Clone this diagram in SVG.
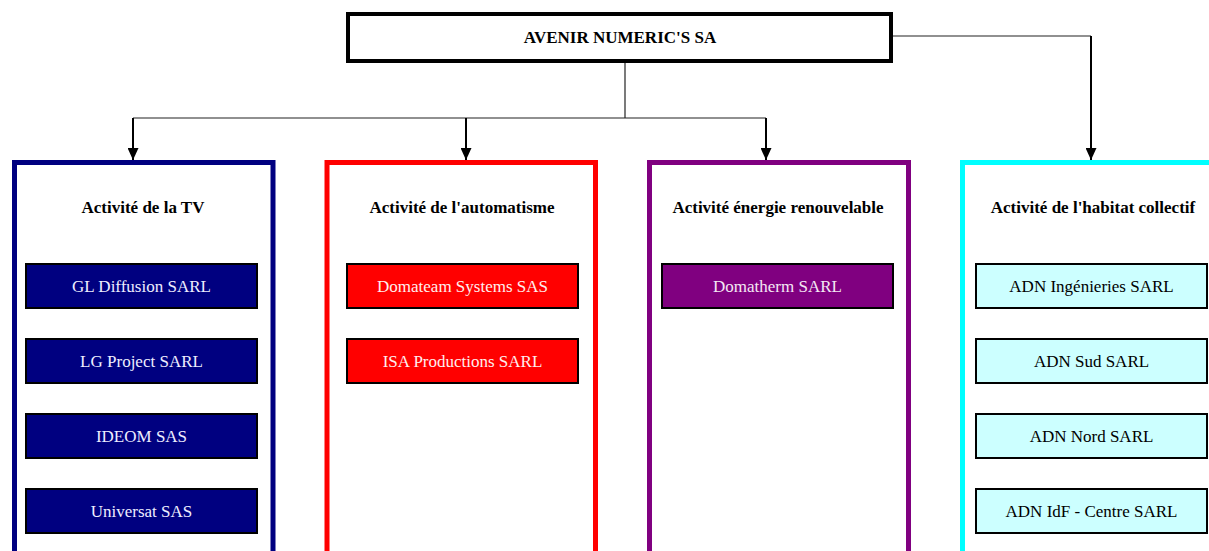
<svg xmlns="http://www.w3.org/2000/svg" width="1209" height="551" viewBox="0 0 1209 551">
<style>
  text { font-family: "Liberation Serif", "Times New Roman", serif; font-size: 17px; text-anchor: middle; }
  .title { font-weight: bold; fill: #000; }
  .col { fill: #fff; stroke-width: 5; }
  .sub { stroke: #000; stroke-width: 2; }
  .thin { stroke: #222; stroke-width: 1.2; fill: none; }
  .arr { stroke: #000; stroke-width: 2; fill: none; marker-end: url(#ah); }
</style>
<defs>
  <marker id="ah" viewBox="0 0 12 11" refX="12" refY="5.5" markerWidth="12" markerHeight="11" orient="auto" markerUnits="userSpaceOnUse">
    <path d="M0,0 L12,5.5 L0,11 Z" fill="#000"/>
  </marker>
</defs>
<rect width="1209" height="551" fill="#fff"/>

<g id="connectors">
  <line class="thin" x1="625" y1="63" x2="625" y2="118"/>
  <line class="thin" x1="133" y1="118" x2="766" y2="118"/>
  <line class="arr" x1="133" y1="118" x2="133" y2="160"/>
  <line class="arr" x1="466" y1="118" x2="466" y2="160"/>
  <line class="arr" x1="766" y1="118" x2="766" y2="160"/>
  <line class="thin" x1="893" y1="36" x2="1091" y2="36"/>
  <line class="arr" x1="1091" y1="36" x2="1091" y2="160"/>
</g>

<g id="root">
  <rect x="348" y="14" width="543" height="47" fill="#fff" stroke="#000" stroke-width="4"/>
  <text class="title" x="620" y="43">AVENIR NUMERIC'S SA</text>
</g>

<g id="col-tv">
  <rect class="col" x="14.5" y="162.5" width="258.5" height="500" stroke="#000080"/>
  <text class="title" x="143" y="213">Activité de la TV</text>
</g>
<g id="col-auto">
  <rect class="col" x="327" y="162.5" width="268.5" height="500" stroke="#FF0000"/>
  <text class="title" x="462" y="213">Activité de l'automatisme</text>
</g>
<g id="col-energie">
  <rect class="col" x="649.5" y="162.5" width="259" height="500" stroke="#800080"/>
  <text class="title" x="778" y="213">Activité énergie renouvelable</text>
</g>
<g id="col-habitat">
  <rect class="col" x="962.5" y="162.5" width="270" height="500" stroke="#00FFFF"/>
  <text class="title" x="1093" y="213">Activité de l'habitat collectif</text>
</g>

<g id="gl-diffusion">
  <rect class="sub" x="26" y="264" width="231" height="44" fill="#000080"/>
  <text x="141.5" y="292" fill="#EEEEFF">GL Diffusion SARL</text>
</g>
<g id="lg-project">
  <rect class="sub" x="26" y="339" width="231" height="44" fill="#000080"/>
  <text x="141.5" y="367" fill="#EEEEFF">LG Project SARL</text>
</g>
<g id="ideom">
  <rect class="sub" x="26" y="414" width="231" height="44" fill="#000080"/>
  <text x="141.5" y="442" fill="#EEEEFF">IDEOM SAS</text>
</g>
<g id="universat">
  <rect class="sub" x="26" y="489" width="231" height="44" fill="#000080"/>
  <text x="141.5" y="517" fill="#EEEEFF">Universat SAS</text>
</g>

<g id="domateam">
  <rect class="sub" x="347" y="264" width="231" height="44" fill="#FF0000"/>
  <text x="462.5" y="292" fill="#FFEEEE">Domateam Systems SAS</text>
</g>
<g id="isa-productions">
  <rect class="sub" x="347" y="339" width="231" height="44" fill="#FF0000"/>
  <text x="462.5" y="367" fill="#FFEEEE">ISA Productions SARL</text>
</g>

<g id="domatherm">
  <rect class="sub" x="662" y="264" width="231" height="44" fill="#800080"/>
  <text x="777.5" y="292" fill="#F4E8F4">Domatherm SARL</text>
</g>

<g id="adn-ingenieries">
  <rect class="sub" x="976" y="264" width="231" height="44" fill="#CCFFFF"/>
  <text x="1091.5" y="292" fill="#000">ADN Ingénieries SARL</text>
</g>
<g id="adn-sud">
  <rect class="sub" x="976" y="339" width="231" height="44" fill="#CCFFFF"/>
  <text x="1091.5" y="367" fill="#000">ADN Sud SARL</text>
</g>
<g id="adn-nord">
  <rect class="sub" x="976" y="414" width="231" height="44" fill="#CCFFFF"/>
  <text x="1091.5" y="442" fill="#000">ADN Nord SARL</text>
</g>
<g id="adn-idf">
  <rect class="sub" x="976" y="489" width="231" height="44" fill="#CCFFFF"/>
  <text x="1091.5" y="517" fill="#000">ADN IdF - Centre SARL</text>
</g>
</svg>
